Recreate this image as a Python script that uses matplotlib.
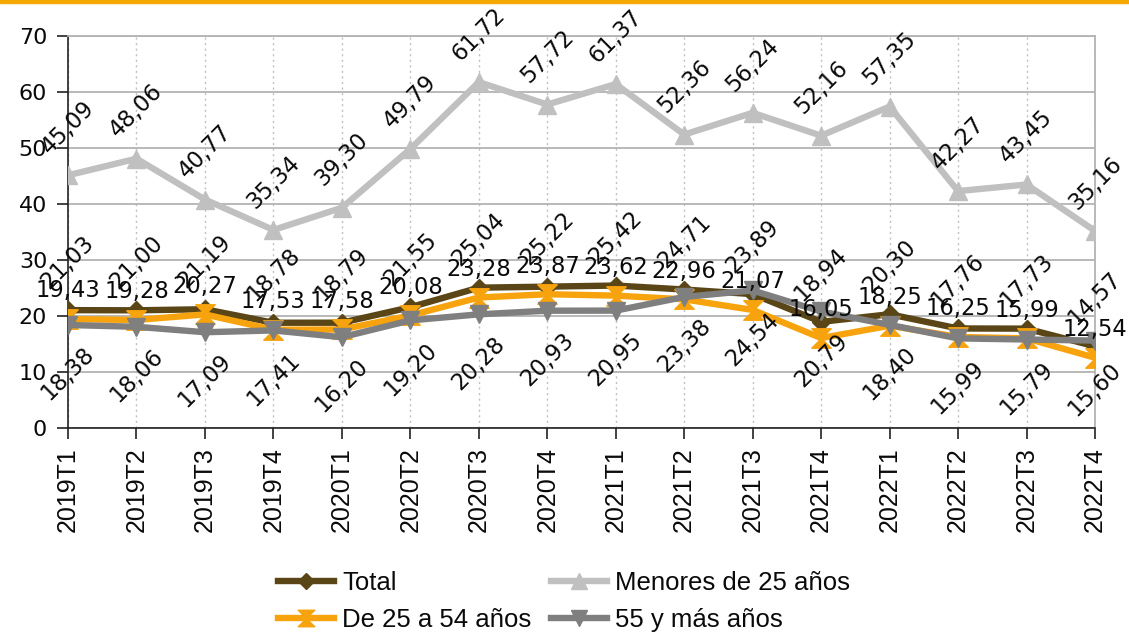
import matplotlib
matplotlib.use('Agg')
import matplotlib.pyplot as plt
from matplotlib.path import Path
from matplotlib.patches import Rectangle

categories = ["2019T1", "2019T2", "2019T3", "2019T4", "2020T1", "2020T2", "2020T3", "2020T4",
              "2021T1", "2021T2", "2021T3", "2021T4", "2022T1", "2022T2", "2022T3", "2022T4"]
total = [21.03, 21.00, 21.19, 18.78, 18.79, 21.55, 25.04, 25.22,
         25.42, 24.71, 23.89, 18.94, 20.30, 17.76, 17.73, 14.57]
menores25 = [45.09, 48.06, 40.77, 35.34, 39.30, 49.79, 61.72, 57.72,
             61.37, 52.36, 56.24, 52.16, 57.35, 42.27, 43.45, 35.16]
de25a54 = [19.43, 19.28, 20.27, 17.53, 17.58, 20.08, 23.28, 23.87,
           23.62, 22.96, 21.07, 16.05, 18.25, 16.25, 15.99, 12.54]
mas55 = [18.38, 18.06, 17.09, 17.41, 16.20, 19.20, 20.28, 20.93,
         20.95, 23.38, 24.54, 20.79, 18.40, 15.99, 15.79, 15.60]
yticks = [0, 10, 20, 30, 40, 50, 60, 70]

C_TOTAL = '#5a4516'
C_MEN = '#c0c0c0'
C_DE = '#f7a30e'
C_55 = '#7f7f7f'

hourglass = Path([(-1, 1), (1, 1), (0, 0), (1, -1), (-1, -1), (0, 0), (-1, 1)],
                 [Path.MOVETO, Path.LINETO, Path.LINETO, Path.LINETO, Path.LINETO, Path.LINETO, Path.CLOSEPOLY])

fig = plt.figure(figsize=(11.29, 6.36), dpi=100)
ax = fig.add_axes([68/1129, 1-428/636, (1095-68)/1129, (428-35.7)/636])

fig.patches.append(Rectangle((0, 1-3/636), 1, 3/636, transform=fig.transFigure,
                             color='#f5a800', zorder=10))

x = list(range(len(categories)))
lw = 4.6
l1, = ax.plot(x, total, color=C_TOTAL, lw=lw, marker='D', ms=9, zorder=3, label='Total')
l2, = ax.plot(x, menores25, color=C_MEN, lw=lw, marker='^', ms=13, zorder=3, label='Menores de 25 años')
l3, = ax.plot(x, de25a54, color=C_DE, lw=lw, marker=hourglass, ms=14, zorder=3, label='De 25 a 54 años')
l4, = ax.plot(x, mas55, color=C_55, lw=lw, marker='v', ms=13, zorder=3, label='55 y más años')

def fmt(v):
    return f"{v:.2f}".replace('.', ',')

lab_font = dict(family='DejaVu Sans', size=16.3, color='#0a0a0a')
for i in x:
    ax.annotate(fmt(total[i]), (i, total[i]), xytext=(0, 34.5), textcoords='offset points',
                rotation=45, rotation_mode='anchor', ha='center', va='center',
                annotation_clip=False, zorder=5, **lab_font)
    ax.annotate(fmt(menores25[i]), (i, menores25[i]), xytext=(0, 34.5), textcoords='offset points',
                rotation=45, rotation_mode='anchor', ha='center', va='center',
                annotation_clip=False, zorder=5, **lab_font)
    ax.annotate(fmt(de25a54[i]), (i, de25a54[i]), xytext=(0, 15.6), textcoords='offset points',
                ha='center', va='baseline', annotation_clip=False, zorder=5, **lab_font)
    ax.annotate(fmt(mas55[i]), (i, mas55[i]), xytext=(0, -35), textcoords='offset points',
                rotation=45, rotation_mode='anchor', ha='center', va='center',
                annotation_clip=False, zorder=5, **lab_font)

ax.set_xlim(0, len(categories) - 1)
ax.set_ylim(0, 70)
ax.set_yticks(yticks)
ax.set_yticklabels([str(t) for t in yticks], fontfamily='DejaVu Sans', fontsize=16)
ax.set_xticks(x)
ax.set_xticklabels(categories, rotation=90, fontfamily='Liberation Sans', fontsize=18)

ax.yaxis.grid(True, color='#b3b3b3', lw=1.3, zorder=0)
ax.xaxis.grid(True, color='#c0c0c0', lw=1.0, linestyle=(0, (1.5, 2.5)), zorder=0)
ax.set_axisbelow(True)

ax.spines['left'].set_color('#222222')
ax.spines['bottom'].set_color('#222222')
ax.spines['left'].set_linewidth(1.2)
ax.spines['bottom'].set_linewidth(1.2)
ax.spines['top'].set_color('#b3b3b3')
ax.spines['right'].set_color('#b3b3b3')
ax.spines['top'].set_linewidth(1.3)
ax.spines['right'].set_linewidth(1.3)
ax.tick_params(axis='y', length=8, width=1.2, color='#222222', pad=7, labelcolor='#0a0a0a')
ax.tick_params(axis='x', length=8, width=1.2, color='#222222', pad=6, labelcolor='#0a0a0a')

leg = fig.legend(handles=[l1, l3, l2, l4], ncol=2, loc='upper left',
                 bbox_to_anchor=(265/1129, 1-558/636), frameon=False, borderpad=0,
                 prop={'family': 'Liberation Sans', 'size': 18.5},
                 handlelength=2.2, handletextpad=0.3, columnspacing=0.75, labelspacing=0.52,
                 markerscale=0.85)
for t in leg.get_texts():
    t.set_color('#0a0a0a')

fig.savefig('out.png', dpi=100)
